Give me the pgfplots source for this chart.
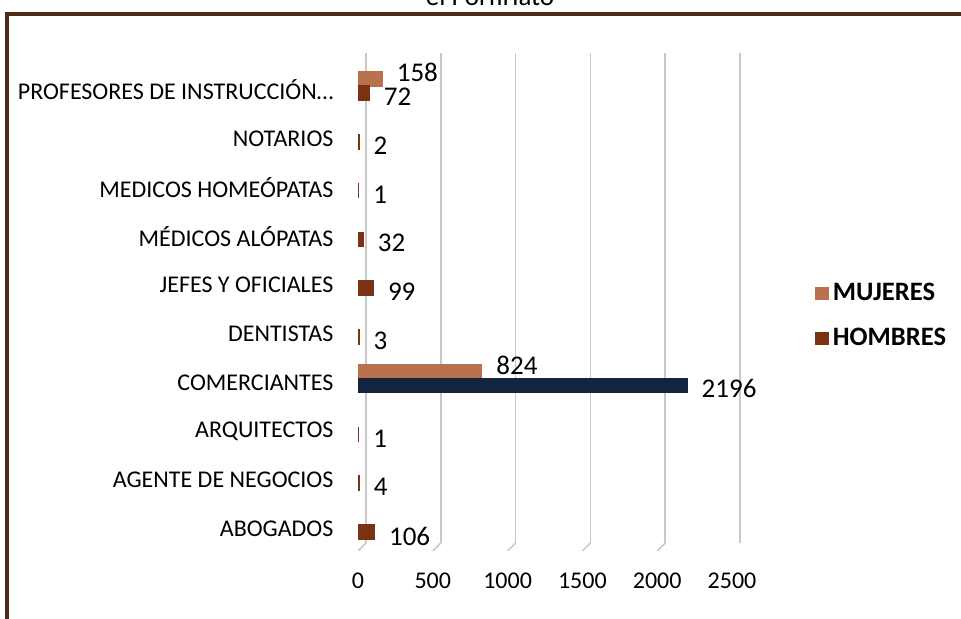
\documentclass[border=0pt]{standalone}
\usepackage{fontspec}
\setmainfont{Carlito}
\usepackage{pgfplots}
\pgfplotsset{compat=1.18}
\definecolor{muj}{RGB}{185,114,77}
\definecolor{hom}{RGB}{122,51,18}
\definecolor{navyb}{RGB}{20,35,62}
\definecolor{framec}{RGB}{78,42,20}
\definecolor{gridc}{RGB}{200,200,200}
\begin{document}
\begin{tikzpicture}
\useasboundingbox (0,0) rectangle (480.5pt,309.5pt);
\clip (0,0) rectangle (480.5pt,309.5pt);
\draw[framec, line width=2pt] (3.5pt,0) -- (3.5pt,302.5pt) -- (482pt,302.5pt);
\node[anchor=base, font=\fontsize{13.5}{16}\selectfont, inner sep=0pt] at (245pt,306.5pt) {el Porfiriato};
\begin{axis}[
  at={(179pt,34pt)}, anchor=south west,
  scale only axis, width=187pt, height=245pt,
  xbar, bar width=6.6pt,
  xmin=0, xmax=2500, ymin=-0.45, ymax=9.594,
  axis line style={draw=none}, tick style={draw=none},
  /pgf/number format/assume math mode=true,
  /pgf/number format/1000 sep={},
  xtick={0,500,1000,1500,2000,2500},
  xmajorgrids, major grid style={gridc, line width=0.75pt, xshift=4pt, yshift=4pt},
  ytick={0,...,9},
  yticklabels={ABOGADOS,AGENTE DE NEGOCIOS,ARQUITECTOS,COMERCIANTES,DENTISTAS,JEFES Y OFICIALES,MÉDICOS ALÓPATAS,MEDICOS HOMEÓPATAS,NOTARIOS,PROFESORES DE INSTRUCCIÓN…},
  ticklabel style={font=\fontsize{12}{14}\selectfont},
  xticklabel style={anchor=center, yshift=-15pt},
  yticklabel style={anchor=east, xshift=-4.5pt},
  nodes near coords,
  nodes near coords style={anchor=west, inner sep=0pt, xshift=7pt, font=\fontsize{13.5}{16}\selectfont, text=black},
  legend style={at={(1.206,0.4796)}, anchor=west, draw=none, fill=none, font=\bfseries\fontsize{13.3}{16}\selectfont, row sep=8pt, legend cell align=left},
  legend image code/.code={\fill[#1] (0pt,-2.75pt) rectangle (5.5pt,2.75pt);},
]
\foreach \x in {0,500,1000,1500,2000,2500} {
  \edef\tmp{\noexpand\draw[gridc, line width=0.75pt] (axis cs:\x,-0.45) -- ++(4pt,4pt);}
  \tmp
}
\addplot[fill=muj, draw=muj, line width=1.2pt, bar shift=5.5pt, every node near coord/.append style={yshift=3.2pt}] coordinates {(158,9) (824,3)};
\addlegendentry{MUJERES}
\addplot[fill=hom, draw=hom, line width=1.2pt, bar shift=-1.5pt, every node near coord/.append style={yshift=-2pt}] coordinates {(106,0) (4,1) (1,2) (3,4) (99,5) (32,6) (1,7) (2,8) (72,9)};
\addlegendentry{HOMBRES}
\addplot[fill=navyb, draw=navyb, line width=1.2pt, bar shift=-1.5pt, forget plot, every node near coord/.append style={yshift=-1.5pt}] coordinates {(2196,3)};
\end{axis}
\end{tikzpicture}
\end{document}
